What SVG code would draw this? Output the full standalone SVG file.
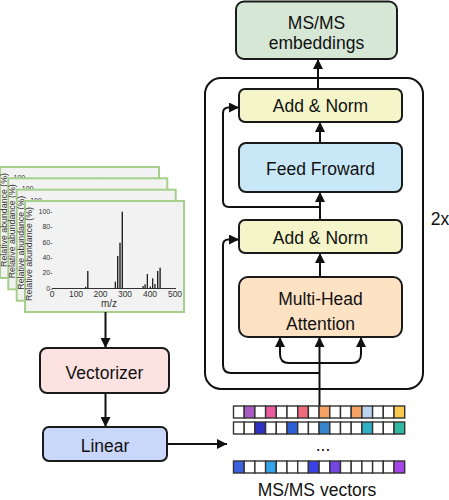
<svg xmlns="http://www.w3.org/2000/svg" xmlns:xlink="http://www.w3.org/1999/xlink" width="449" height="500" viewBox="0 0 449 500">
<style>
.box{stroke:#1a1a1a;stroke-width:2}
.lbl{font-family:"Liberation Sans",Arial,sans-serif;font-size:17.5px;fill:#111;text-anchor:middle}
.conn{fill:none;stroke:#111;stroke-width:2}
.ax{font-family:"Liberation Sans",Arial,sans-serif;fill:#333}
.bar{fill:#222}
.cell{stroke:#333;stroke-width:1.4}
</style>
<defs>
<marker id="ah" markerUnits="userSpaceOnUse" markerWidth="10" markerHeight="10" refX="10" refY="5" orient="auto">
<path d="M0,0 L10,5 L0,10 z" fill="#111"/>
</marker>
<g id="card">
<rect x="25" y="201" width="159" height="111" fill="#f2f2f2" stroke="#a5d08c" stroke-width="2"/>
<line x1="52" y1="288.5" x2="176" y2="288.5" stroke="#333" stroke-width="1"/>
<g class="ax" font-size="7" text-anchor="end">
<text x="52.5" y="214">100-</text>
<text x="52.5" y="229">80-</text>
<text x="52.5" y="244.5">60-</text>
<text x="52.5" y="259.5">40-</text>
<text x="52.5" y="275">20-</text>
<text x="52.5" y="290.5">0-</text>
</g>
<g class="ax" font-size="8.5" text-anchor="middle">
<text x="52" y="297">0</text>
<text x="76" y="297">100</text>
<text x="100.5" y="297">200</text>
<text x="125" y="297">300</text>
<text x="150" y="297">400</text>
<text x="175" y="297">500</text>
<text x="109" y="307" font-size="10">m/z</text>
</g>
<text class="ax" font-size="8.8" text-anchor="middle" transform="translate(32,254) rotate(-90)">Relative abundance (%)</text>
<g class="bar">
<rect x="85" y="286.8" width="1.3" height="1.7"/>
<rect x="87.1" y="271" width="1.4" height="17.5"/>
<rect x="114.7" y="281.7" width="1.3" height="6.8"/>
<rect x="117" y="256" width="1.4" height="32.5"/>
<rect x="119.3" y="242.7" width="1.4" height="45.8"/>
<rect x="121.6" y="211.7" width="1.4" height="76.8"/>
<rect x="142.4" y="286" width="1.3" height="2.5"/>
<rect x="144.4" y="284.3" width="1.3" height="4.2"/>
<rect x="146.7" y="274" width="1.3" height="14.5"/>
<rect x="149.7" y="286.5" width="1.3" height="2"/>
<rect x="152" y="278.3" width="1.3" height="10.2"/>
<rect x="154.3" y="284" width="1.3" height="4.5"/>
<rect x="157" y="271" width="1.4" height="17.5"/>
<rect x="159.4" y="267.7" width="1.4" height="20.8"/>
</g>
</g>
</defs>

<g id="spectra">
<use xlink:href="#card" transform="translate(-25,-34)"/>
<use xlink:href="#card" transform="translate(-16.7,-22.7)"/>
<use xlink:href="#card" transform="translate(-8.3,-11.3)"/>
<use xlink:href="#card"/>
</g>

<g id="encoder-frame">
<rect x="205" y="78" width="218" height="311" rx="16" fill="none" stroke="#111" stroke-width="2"/>
<text class="lbl" x="440" y="225">2x</text>
</g>

<g id="connectors">
<path class="conn" d="M318,89 V59" marker-end="url(#ah)"/>
<path class="conn" d="M320,143 V122" marker-end="url(#ah)"/>
<path class="conn" d="M320,220 V192" marker-end="url(#ah)"/>
<path class="conn" d="M320,277 V253" marker-end="url(#ah)"/>
<path class="conn" d="M320,207 H229 Q223,207 223,201 V113 Q223,107.5 228.5,107.5 H239" marker-end="url(#ah)"/>
<path class="conn" d="M320,373 H231 Q223,373 223,365 V245 Q223,239.5 228.5,239.5 H239" marker-end="url(#ah)"/>
<path class="conn" d="M319.5,406 V337" marker-end="url(#ah)"/>
<path class="conn" d="M320,363 H289 Q280,363 280,354 V337" marker-end="url(#ah)"/>
<path class="conn" d="M320,363 H352 Q361,363 361,354 V337" marker-end="url(#ah)"/>
<path class="conn" d="M105.5,312 V348" marker-end="url(#ah)"/>
<path class="conn" d="M105.5,393 V427" marker-end="url(#ah)"/>
<path class="conn" d="M167,444 H227" marker-end="url(#ah)"/>
</g>

<g id="embeddings">
<rect class="box" x="236" y="1.5" width="161" height="57.5" rx="8" fill="#d6e7d6"/>
<text class="lbl" x="316.5" y="28.5">MS/MS</text>
<text class="lbl" x="316.5" y="49">embeddings</text>
</g>
<g id="addnorm-top">
<rect class="box" x="239" y="89" width="163" height="33" rx="6" fill="#f4f5c9"/>
<text class="lbl" x="320.5" y="112">Add &amp; Norm</text>
</g>
<g id="feedforward">
<rect class="box" x="239" y="143" width="163" height="49" rx="7" fill="#c9e8f7"/>
<text class="lbl" x="320.5" y="174.5">Feed Froward</text>
</g>
<g id="addnorm-bottom">
<rect class="box" x="239" y="220" width="163" height="33" rx="6" fill="#f4f5c9"/>
<text class="lbl" x="320.5" y="244">Add &amp; Norm</text>
</g>
<g id="mha">
<rect class="box" x="239" y="277" width="163" height="60" rx="9" fill="#fde2c4"/>
<text class="lbl" x="320.5" y="305">Multi-Head</text>
<text class="lbl" x="320.5" y="329.5">Attention</text>
</g>
<g id="vectorizer">
<rect class="box" x="40" y="348" width="129" height="45" rx="7" fill="#fde2e2"/>
<text class="lbl" x="104.5" y="378.5">Vectorizer</text>
</g>
<g id="linear">
<rect class="box" x="43" y="427" width="124" height="34" rx="6" fill="#c9d8fa"/>
<text class="lbl" x="105" y="451.5">Linear</text>
</g>

<g id="vectors">
<g class="cell">
<rect x="233.5" y="406" width="10.7" height="12" fill="#fff"/>
<rect x="244.2" y="406" width="10.7" height="12" fill="#a95bc3"/>
<rect x="254.9" y="406" width="10.7" height="12" fill="#fff"/>
<rect x="265.6" y="406" width="10.7" height="12" fill="#e95a9e"/>
<rect x="276.3" y="406" width="10.7" height="12" fill="#fff"/>
<rect x="287" y="406" width="10.7" height="12" fill="#fff"/>
<rect x="297.7" y="406" width="10.7" height="12" fill="#f06b7e"/>
<rect x="308.4" y="406" width="10.7" height="12" fill="#fff"/>
<rect x="319.1" y="406" width="10.7" height="12" fill="#f5a263"/>
<rect x="329.8" y="406" width="10.7" height="12" fill="#fff"/>
<rect x="340.5" y="406" width="10.7" height="12" fill="#fff"/>
<rect x="351.2" y="406" width="10.7" height="12" fill="#f5a263"/>
<rect x="361.9" y="406" width="10.7" height="12" fill="#bcd3ef"/>
<rect x="372.6" y="406" width="10.7" height="12" fill="#fff"/>
<rect x="383.3" y="406" width="10.7" height="12" fill="#fff"/>
<rect x="394" y="406" width="10.7" height="12" fill="#f7c94f"/>

<rect x="233.5" y="422" width="10.7" height="12" fill="#fff"/>
<rect x="244.2" y="422" width="10.7" height="12" fill="#fff"/>
<rect x="254.9" y="422" width="10.7" height="12" fill="#2f2fc2"/>
<rect x="265.6" y="422" width="10.7" height="12" fill="#fff"/>
<rect x="276.3" y="422" width="10.7" height="12" fill="#fff"/>
<rect x="287" y="422" width="10.7" height="12" fill="#2f5fd6"/>
<rect x="297.7" y="422" width="10.7" height="12" fill="#fff"/>
<rect x="308.4" y="422" width="10.7" height="12" fill="#fff"/>
<rect x="319.1" y="422" width="10.7" height="12" fill="#3486cf"/>
<rect x="329.8" y="422" width="10.7" height="12" fill="#fff"/>
<rect x="340.5" y="422" width="10.7" height="12" fill="#fff"/>
<rect x="351.2" y="422" width="10.7" height="12" fill="#fff"/>
<rect x="361.9" y="422" width="10.7" height="12" fill="#2fb0c4"/>
<rect x="372.6" y="422" width="10.7" height="12" fill="#fff"/>
<rect x="383.3" y="422" width="10.7" height="12" fill="#fff"/>
<rect x="394" y="422" width="10.7" height="12" fill="#2fb9a0"/>

<rect x="233.5" y="461" width="10.7" height="12" fill="#3a62e2"/>
<rect x="244.2" y="461" width="10.7" height="12" fill="#fff"/>
<rect x="254.9" y="461" width="10.7" height="12" fill="#fff"/>
<rect x="265.6" y="461" width="10.7" height="12" fill="#35a3ec"/>
<rect x="276.3" y="461" width="10.7" height="12" fill="#fff"/>
<rect x="287" y="461" width="10.7" height="12" fill="#fff"/>
<rect x="297.7" y="461" width="10.7" height="12" fill="#fff"/>
<rect x="308.4" y="461" width="10.7" height="12" fill="#3c42ea"/>
<rect x="319.1" y="461" width="10.7" height="12" fill="#fff"/>
<rect x="329.8" y="461" width="10.7" height="12" fill="#7346e2"/>
<rect x="340.5" y="461" width="10.7" height="12" fill="#fff"/>
<rect x="351.2" y="461" width="10.7" height="12" fill="#fff"/>
<rect x="361.9" y="461" width="10.7" height="12" fill="#fff"/>
<rect x="372.6" y="461" width="10.7" height="12" fill="#fff"/>
<rect x="383.3" y="461" width="10.7" height="12" fill="#fff"/>
<rect x="394" y="461" width="10.7" height="12" fill="#a444ea"/>
</g>
<text class="lbl" x="323" y="451">...</text>
<text class="lbl" x="317" y="496" font-size="18px">MS/MS vectors</text>
</g>
</svg>
